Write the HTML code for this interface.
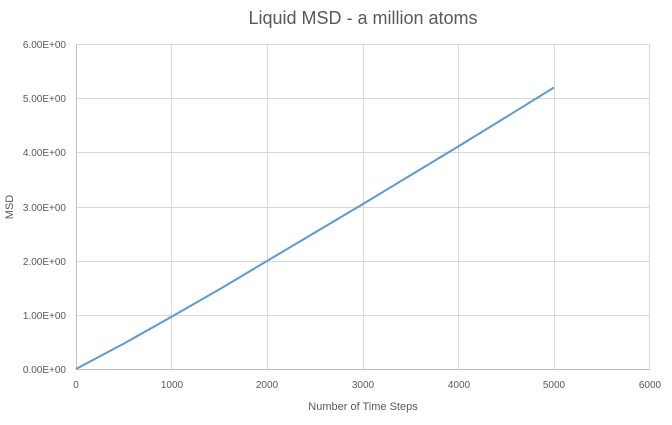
<!DOCTYPE html>
<html><head><meta charset="utf-8"><style>
html,body{margin:0;padding:0;background:#fff;}
svg{display:block;font-family:"Liberation Sans",sans-serif;}
</style></head><body>
<svg width="672" height="425" viewBox="0 0 672 425" xmlns="http://www.w3.org/2000/svg">
<rect width="672" height="425" fill="#fff"/>
<text x="363" y="24" text-anchor="middle" font-size="18" fill="#595959">Liquid MSD - a million atoms</text>
<g stroke="#d9d9d9" stroke-width="1">
<line x1="76" y1="44.5" x2="650" y2="44.5"/>
<line x1="76" y1="98.5" x2="650" y2="98.5"/>
<line x1="76" y1="152.5" x2="650" y2="152.5"/>
<line x1="76" y1="207.5" x2="650" y2="207.5"/>
<line x1="76" y1="261.5" x2="650" y2="261.5"/>
<line x1="76" y1="315.5" x2="650" y2="315.5"/>
<line x1="171.5" y1="44" x2="171.5" y2="369"/>
<line x1="267.5" y1="44" x2="267.5" y2="369"/>
<line x1="363.5" y1="44" x2="363.5" y2="369"/>
<line x1="458.5" y1="44" x2="458.5" y2="369"/>
<line x1="554.5" y1="44" x2="554.5" y2="369"/>
<line x1="649.5" y1="44" x2="649.5" y2="369"/>
</g>
<line x1="76" y1="369.5" x2="650" y2="369.5" stroke="#bfbfbf"/>
<line x1="76.5" y1="44" x2="76.5" y2="369" stroke="#bfbfbf"/>
<g font-size="10" fill="#595959" text-anchor="end">
<text x="66" y="48">6.00E+00</text>
<text x="66" y="102">5.00E+00</text>
<text x="66" y="156">4.00E+00</text>
<text x="66" y="211">3.00E+00</text>
<text x="66" y="265">2.00E+00</text>
<text x="66" y="319">1.00E+00</text>
<text x="66" y="373">0.00E+00</text>
</g>
<g font-size="10" fill="#595959" text-anchor="middle">
<text x="76" y="388">0</text>
<text x="172" y="388">1000</text>
<text x="267" y="388">2000</text>
<text x="363" y="388">3000</text>
<text x="459" y="388">4000</text>
<text x="554" y="388">5000</text>
<text x="650" y="388">6000</text>
</g>
<text x="363" y="410" text-anchor="middle" font-size="11" fill="#595959">Number of Time Steps</text>
<text transform="translate(13,207) rotate(-90)" text-anchor="middle" font-size="11" fill="#595959">MSD</text>
<polyline fill="none" stroke="#5b9bd5" stroke-width="2" stroke-linejoin="round"
points="76,369 124,343.5 172,316.5 220,289 267,261 315,232.5 363,204 411,175 459,146 507,116.5 554,87.5"/>
</svg>
</body></html>
